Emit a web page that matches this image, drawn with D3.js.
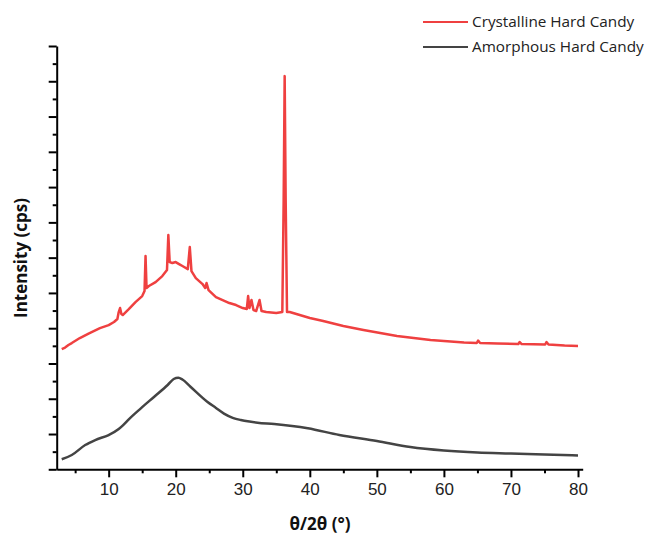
<!DOCTYPE html>
<html>
<head>
<meta charset="utf-8">
<script src="https://cdn.jsdelivr.net/npm/d3@7"></script>
<style>
  body { margin: 0; background: #fff; }
  svg { display: block; }
  .tick-label { font-family: "Liberation Sans", Arial, sans-serif; font-size: 17px; fill: #222; }
  .axis-title { font-family: "Open Sans", sans-serif; font-weight: bold; font-size: 17px; fill: #111; }
  .legend-text { font-family: "Open Sans", sans-serif; font-size: 15.3px; fill: #222; }
</style>
</head>
<body>
<svg id="chart" width="647" height="535"></svg>
<script>
// 2theta (deg) / intensity (cps)
const crystal_theta = [3.0, 3.5, 4, 4.5, 5.7, 7, 8.7, 10, 10.8, 11.3, 11.5, 11.7, 11.9, 12.1, 13, 14, 15, 15.35, 15.5, 15.65, 16, 17, 18, 18.7, 18.9, 19.1, 19.5, 20, 20.5, 21, 21.8, 22.1, 22.35, 23, 24, 24.4, 24.6, 24.9, 26, 27, 28, 29, 30, 30.6, 30.8, 31.0, 31.3, 31.6, 32.0, 32.5, 32.8, 33.5, 35, 35.9, 36.1, 36.25, 36.4, 36.6, 37, 38, 40, 42, 45, 48, 50.5, 53, 55.5, 58, 60, 63, 64.9, 65.1, 65.4, 68, 71.1, 71.3, 71.6, 75.1, 75.3, 75.6, 78, 80];
const crystal_cps = [3409, 3452, 3523, 3579, 3721, 3849, 4004, 4089, 4175, 4260, 4458, 4571, 4401, 4373, 4543, 4741, 4911, 5053, 6045, 5138, 5195, 5308, 5478, 5648, 6640, 5875, 5847, 5875, 5818, 5762, 5676, 6300, 5620, 5421, 5251, 5138, 5280, 5081, 4883, 4798, 4713, 4656, 4571, 4543, 4911, 4571, 4798, 4515, 4486, 4798, 4486, 4458, 4430, 4458, 7632, 11146, 7632, 4458, 4458, 4401, 4288, 4203, 4061, 3948, 3863, 3778, 3721, 3664, 3636, 3594, 3580, 3650, 3580, 3565, 3551, 3608, 3551, 3537, 3608, 3537, 3508, 3494];

const amorph_theta = [3.0, 4.5, 6.5, 8, 10, 11.5, 12.2, 13, 14.8, 16.8, 18.8, 19.7, 20.4, 21.0, 22.2, 24.7, 26, 27.2, 28.5, 29.7, 31, 32.2, 34.7, 39.7, 44.4, 50, 55, 60, 65, 70, 75, 80];
const amorph_cps = [284, 405, 688, 830, 972, 1140, 1260, 1417, 1729, 2058, 2389, 2559, 2596, 2545, 2341, 1916, 1740, 1580, 1460, 1397, 1352, 1321, 1284, 1162, 972, 802, 632, 533, 476, 448, 419, 391];

const series_names = ["Crystalline Hard Candy", "Amorphous Hard Candy"];
const series_colors = ["#ef4040", "#444444"];

const x_major = [10, 20, 30, 40, 50, 60, 70, 80];
const x_minor = [5, 15, 25, 35, 45, 55, 65, 75];
const y_major = d3.range(0, 12001, 1000);
const y_minor = d3.range(500, 12000, 1000);

const svg = d3.select("#chart");

const x = d3.scaleLinear().domain([2.25, 80.7]).range([56.7, 582.7]);
const y = d3.scaleLinear().domain([0, 12000]).range([469.3, 46]);

// axes (origin style: outward ticks, no y labels)
let xg = svg.append("g").attr("transform", "translate(0," + y(0) + ")");
xg.call(d3.axisBottom(x).tickValues(x_major).tickSize(8).tickPadding(6).tickSizeOuter(0));
xg.append("g").call(d3.axisBottom(x).tickValues(x_minor).tickSize(4).tickFormat("").tickSizeOuter(0))
  .select(".domain").remove();
xg.selectAll("text").attr("class", "tick-label").attr("font-size", null).attr("font-family", null);

let yg = svg.append("g").attr("transform", "translate(" + x(2.25) + ",0)");
yg.call(d3.axisLeft(y).tickValues(y_major).tickSize(8).tickFormat("").tickSizeOuter(0));
yg.append("g").call(d3.axisLeft(y).tickValues(y_minor).tickSize(4).tickFormat("").tickSizeOuter(0))
  .select(".domain").remove();

svg.selectAll(".domain").attr("stroke", "#000").attr("stroke-width", 2);
svg.selectAll(".tick line").attr("stroke", "#000").attr("stroke-width", 2);

// curves
const line = d3.line().x(d => x(d[0])).y(d => y(d[1]));
const series = [
  d3.zip(crystal_theta, crystal_cps),
  d3.zip(amorph_theta, amorph_cps)
];
const curve_type = [d3.curveLinear, d3.curveMonotoneX];

series.forEach((pts, i) => {
  svg.append("path")
    .datum(pts)
    .attr("fill", "none")
    .attr("stroke", series_colors[i])
    .attr("stroke-width", 2.5)
    .attr("stroke-linejoin", "round")
    .attr("d", line.curve(curve_type[i]));
});

// legend
series_names.forEach((name, i) => {
  let ly = 22 + i * 25;
  svg.append("line")
    .attr("x1", 423).attr("x2", 468)
    .attr("y1", ly).attr("y2", ly)
    .attr("stroke", series_colors[i]).attr("stroke-width", 2);
  svg.append("text")
    .attr("class", "legend-text")
    .attr("x", 472).attr("y", ly + 5)
    .text(name);
});

// axis titles
svg.append("text")
  .attr("class", "axis-title")
  .attr("text-anchor", "middle")
  .attr("transform", "translate(27,258) rotate(-90)")
  .text("Intensity (cps)");

svg.append("text")
  .attr("class", "axis-title")
  .attr("text-anchor", "middle")
  .attr("x", 320).attr("y", 530)
  .text("θ/2θ (°)");
</script>
</body>
</html>
